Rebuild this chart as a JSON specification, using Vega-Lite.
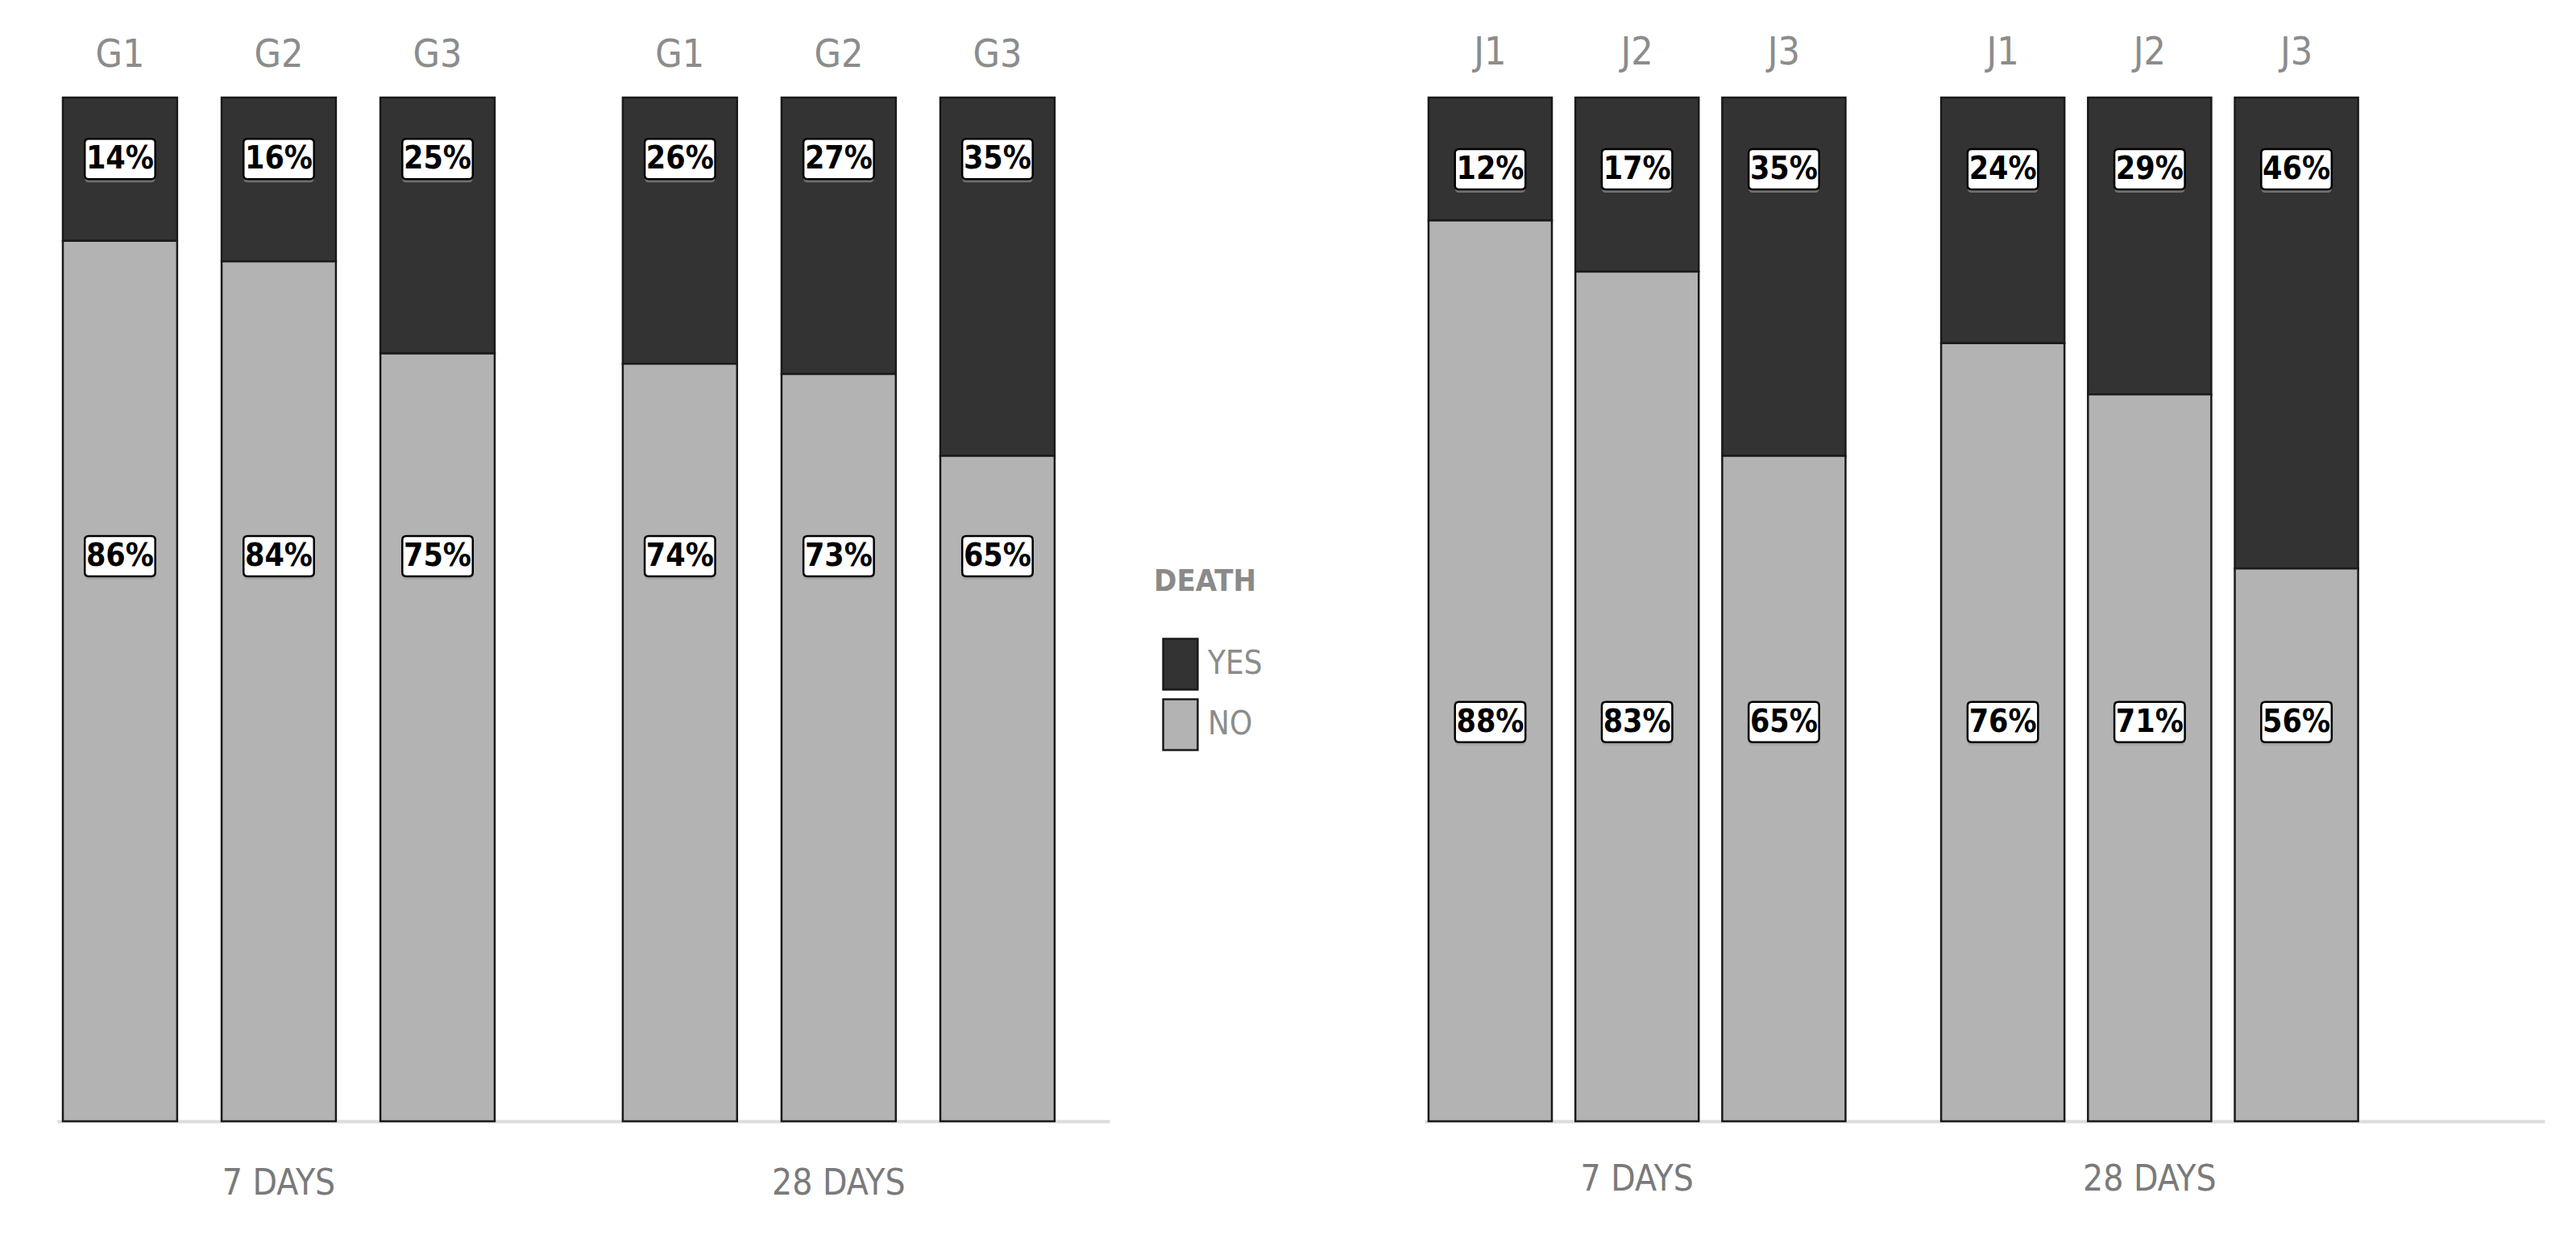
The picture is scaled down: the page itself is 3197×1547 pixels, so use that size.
{
  "$schema": "https://vega.github.io/schema/vega-lite/v6.json",
  "background": "white",
  "padding": {"left": 71, "top": 42, "right": 10, "bottom": 10},
  "config": {"view": {"stroke": null}, "font": "DejaVu Sans Condensed, Liberation Sans Narrow, sans-serif"},
  "datasets": {
    "left": [
      {"period": "7 DAYS", "group": "G1", "death": "YES", "value": 0.14, "label": "14%"},
      {"period": "7 DAYS", "group": "G1", "death": "NO", "value": 0.86, "label": "86%"},
      {"period": "7 DAYS", "group": "G2", "death": "YES", "value": 0.16, "label": "16%"},
      {"period": "7 DAYS", "group": "G2", "death": "NO", "value": 0.84, "label": "84%"},
      {"period": "7 DAYS", "group": "G3", "death": "YES", "value": 0.25, "label": "25%"},
      {"period": "7 DAYS", "group": "G3", "death": "NO", "value": 0.75, "label": "75%"},
      {"period": "28 DAYS", "group": "G1", "death": "YES", "value": 0.26, "label": "26%"},
      {"period": "28 DAYS", "group": "G1", "death": "NO", "value": 0.74, "label": "74%"},
      {"period": "28 DAYS", "group": "G2", "death": "YES", "value": 0.27, "label": "27%"},
      {"period": "28 DAYS", "group": "G2", "death": "NO", "value": 0.73, "label": "73%"},
      {"period": "28 DAYS", "group": "G3", "death": "YES", "value": 0.35, "label": "35%"},
      {"period": "28 DAYS", "group": "G3", "death": "NO", "value": 0.65, "label": "65%"}
    ],
    "right": [
      {"period": "7 DAYS", "group": "J1", "death": "YES", "value": 0.12, "label": "12%"},
      {"period": "7 DAYS", "group": "J1", "death": "NO", "value": 0.88, "label": "88%"},
      {"period": "7 DAYS", "group": "J2", "death": "YES", "value": 0.17, "label": "17%"},
      {"period": "7 DAYS", "group": "J2", "death": "NO", "value": 0.83, "label": "83%"},
      {"period": "7 DAYS", "group": "J3", "death": "YES", "value": 0.35, "label": "35%"},
      {"period": "7 DAYS", "group": "J3", "death": "NO", "value": 0.65, "label": "65%"},
      {"period": "28 DAYS", "group": "J1", "death": "YES", "value": 0.24, "label": "24%"},
      {"period": "28 DAYS", "group": "J1", "death": "NO", "value": 0.76, "label": "76%"},
      {"period": "28 DAYS", "group": "J2", "death": "YES", "value": 0.29, "label": "29%"},
      {"period": "28 DAYS", "group": "J2", "death": "NO", "value": 0.71, "label": "71%"},
      {"period": "28 DAYS", "group": "J3", "death": "YES", "value": 0.46, "label": "46%"},
      {"period": "28 DAYS", "group": "J3", "death": "NO", "value": 0.54, "label": "56%"}
    ]
  },
  "spacing": 201,
  "resolve": {
    "scale": {"color": "independent", "x": "independent", "xOffset": "independent", "y": "independent"},
    "legend": {"color": "independent"}
  },
  "hconcat": [
    {
      "width": 1306,
      "height": 1270,
      "data": {"name": "left"},
      "encoding": {
        "x": {
          "field": "period", "type": "nominal", "sort": ["7 DAYS", "28 DAYS"],
          "scale": {"paddingInner": 0.2086, "paddingOuter": 0.044, "align": 0},
          "axis": {"orient": "bottom", "title": null, "ticks": false, "domain": true, "domainColor": "#dcdcdc", "domainWidth": 4, "labelFontSize": 44, "labelColor": "#7a7a7a", "labelPadding": 55, "labelAngle": 0}
        },
        "xOffset": {"field": "group", "type": "nominal", "scale": {"paddingInner": 0.28, "paddingOuter": 0.0355}}
      },
      "layer": [
        {
          "mark": {"type": "bar", "stroke": "#1a1a1a", "strokeWidth": 2.5},
          "encoding": {
            "y": {"field": "value", "type": "quantitative", "stack": "zero", "scale": {"domain": [0, 1], "nice": false}, "axis": null},
            "color": {
              "field": "death", "type": "nominal",
              "scale": {"domain": ["YES", "NO"], "range": ["#333333", "#b3b3b3"]},
              "legend": {
                "title": "DEATH", "orient": "none", "legendX": 1361, "legendY": 582,
                "titleFontSize": 38, "titleColor": "#8a8a8a", "titleFontWeight": "bold", "titlePadding": 50,
                "labelFontSize": 40, "labelColor": "#8c8c8c", "labelOffset": 1,
                "symbolType": "M-0.68,-1H0.68V1H-0.68Z", "symbolSize": 3969,
                "symbolStrokeColor": "#1a1a1a", "symbolStrokeWidth": 2.5, "symbolOpacity": 1, "rowPadding": 1
              }
            },
            "order": {"field": "death", "sort": "ascending"}
          }
        },
        {
          "transform": [{"filter": "datum.death === 'YES'"}],
          "mark": {"type": "text", "dy": -52, "fontSize": 48, "color": "#8c8c8c"},
          "encoding": {"y": {"datum": 1}, "text": {"field": "group"}}
        },
        {
          "transform": [{"filter": "datum.death === 'YES'"}],
          "mark": {"type": "point", "shape": "M-1.55,-1H1.55Q1.75,-1 1.75,-0.8V0.8Q1.75,1 1.55,1H-1.55Q-1.75,1 -1.75,0.8V-0.8Q-1.75,-1 -1.55,-1Z", "size": 2500, "filled": true, "fill": "#9a9a9a", "strokeWidth": 0, "opacity": 0.6, "xOffset": 3, "yOffset": 4},
          "encoding": {"y": {"datum": 0.94}}
        },
        {
          "transform": [{"filter": "datum.death === 'YES'"}],
          "mark": {"type": "point", "shape": "M-1.55,-1H1.55Q1.75,-1 1.75,-0.8V0.8Q1.75,1 1.55,1H-1.55Q-1.75,1 -1.75,0.8V-0.8Q-1.75,-1 -1.55,-1Z", "size": 2500, "filled": true, "fill": "white", "stroke": "black", "strokeWidth": 2.5, "opacity": 1},
          "encoding": {"y": {"datum": 0.94}}
        },
        {
          "transform": [{"filter": "datum.death === 'YES'"}],
          "mark": {"type": "text", "fontSize": 39, "fontWeight": "bold", "color": "black"},
          "encoding": {"y": {"datum": 0.94}, "text": {"field": "label"}}
        },
        {
          "transform": [{"filter": "datum.death === 'NO'"}],
          "mark": {"type": "point", "shape": "M-1.55,-1H1.55Q1.75,-1 1.75,-0.8V0.8Q1.75,1 1.55,1H-1.55Q-1.75,1 -1.75,0.8V-0.8Q-1.75,-1 -1.55,-1Z", "size": 2500, "filled": true, "fill": "#9a9a9a", "strokeWidth": 0, "opacity": 0.6, "xOffset": 3, "yOffset": 4},
          "encoding": {"y": {"datum": 0.552}}
        },
        {
          "transform": [{"filter": "datum.death === 'NO'"}],
          "mark": {"type": "point", "shape": "M-1.55,-1H1.55Q1.75,-1 1.75,-0.8V0.8Q1.75,1 1.55,1H-1.55Q-1.75,1 -1.75,0.8V-0.8Q-1.75,-1 -1.55,-1Z", "size": 2500, "filled": true, "fill": "white", "stroke": "black", "strokeWidth": 2.5, "opacity": 1},
          "encoding": {"y": {"datum": 0.552}}
        },
        {
          "transform": [{"filter": "datum.death === 'NO'"}],
          "mark": {"type": "text", "fontSize": 39, "fontWeight": "bold", "color": "black"},
          "encoding": {"y": {"datum": 0.552}, "text": {"field": "label"}}
        }
      ]
    },
    {
      "width": 1390,
      "height": 1270,
      "data": {"name": "right"},
      "encoding": {
        "x": {
          "field": "period", "type": "nominal", "sort": ["7 DAYS", "28 DAYS"],
          "scale": {"paddingInner": 0.171, "paddingOuter": 0.178, "align": 0},
          "axis": {"orient": "bottom", "title": null, "ticks": false, "domain": true, "domainColor": "#dcdcdc", "domainWidth": 4, "labelFontSize": 44, "labelColor": "#7a7a7a", "labelPadding": 50, "labelAngle": 0}
        },
        "xOffset": {"field": "group", "type": "nominal", "scale": {"paddingInner": 0.16, "paddingOuter": 0.027}}
      },
      "layer": [
        {
          "mark": {"type": "bar", "stroke": "#1a1a1a", "strokeWidth": 2.5},
          "encoding": {
            "y": {"field": "value", "type": "quantitative", "stack": "zero", "scale": {"domain": [0, 1], "nice": false}, "axis": null},
            "color": {
              "field": "death", "type": "nominal",
              "scale": {"domain": ["YES", "NO"], "range": ["#333333", "#b3b3b3"]},
              "legend": null
            },
            "order": {"field": "death", "sort": "ascending"}
          }
        },
        {
          "transform": [{"filter": "datum.death === 'YES'"}],
          "mark": {"type": "text", "dy": -55, "fontSize": 48, "color": "#8c8c8c"},
          "encoding": {"y": {"datum": 1}, "text": {"field": "group"}}
        },
        {
          "transform": [{"filter": "datum.death === 'YES'"}],
          "mark": {"type": "point", "shape": "M-1.55,-1H1.55Q1.75,-1 1.75,-0.8V0.8Q1.75,1 1.55,1H-1.55Q-1.75,1 -1.75,0.8V-0.8Q-1.75,-1 -1.55,-1Z", "size": 2500, "filled": true, "fill": "#9a9a9a", "strokeWidth": 0, "opacity": 0.6, "xOffset": 3, "yOffset": 4},
          "encoding": {"y": {"datum": 0.93}}
        },
        {
          "transform": [{"filter": "datum.death === 'YES'"}],
          "mark": {"type": "point", "shape": "M-1.55,-1H1.55Q1.75,-1 1.75,-0.8V0.8Q1.75,1 1.55,1H-1.55Q-1.75,1 -1.75,0.8V-0.8Q-1.75,-1 -1.55,-1Z", "size": 2500, "filled": true, "fill": "white", "stroke": "black", "strokeWidth": 2.5, "opacity": 1},
          "encoding": {"y": {"datum": 0.93}}
        },
        {
          "transform": [{"filter": "datum.death === 'YES'"}],
          "mark": {"type": "text", "fontSize": 39, "fontWeight": "bold", "color": "black"},
          "encoding": {"y": {"datum": 0.93}, "text": {"field": "label"}}
        },
        {
          "transform": [{"filter": "datum.death === 'NO'"}],
          "mark": {"type": "point", "shape": "M-1.55,-1H1.55Q1.75,-1 1.75,-0.8V0.8Q1.75,1 1.55,1H-1.55Q-1.75,1 -1.75,0.8V-0.8Q-1.75,-1 -1.55,-1Z", "size": 2500, "filled": true, "fill": "#9a9a9a", "strokeWidth": 0, "opacity": 0.6, "xOffset": 3, "yOffset": 4},
          "encoding": {"y": {"datum": 0.39}}
        },
        {
          "transform": [{"filter": "datum.death === 'NO'"}],
          "mark": {"type": "point", "shape": "M-1.55,-1H1.55Q1.75,-1 1.75,-0.8V0.8Q1.75,1 1.55,1H-1.55Q-1.75,1 -1.75,0.8V-0.8Q-1.75,-1 -1.55,-1Z", "size": 2500, "filled": true, "fill": "white", "stroke": "black", "strokeWidth": 2.5, "opacity": 1},
          "encoding": {"y": {"datum": 0.39}}
        },
        {
          "transform": [{"filter": "datum.death === 'NO'"}],
          "mark": {"type": "text", "fontSize": 39, "fontWeight": "bold", "color": "black"},
          "encoding": {"y": {"datum": 0.39}, "text": {"field": "label"}}
        }
      ]
    }
  ]
}
